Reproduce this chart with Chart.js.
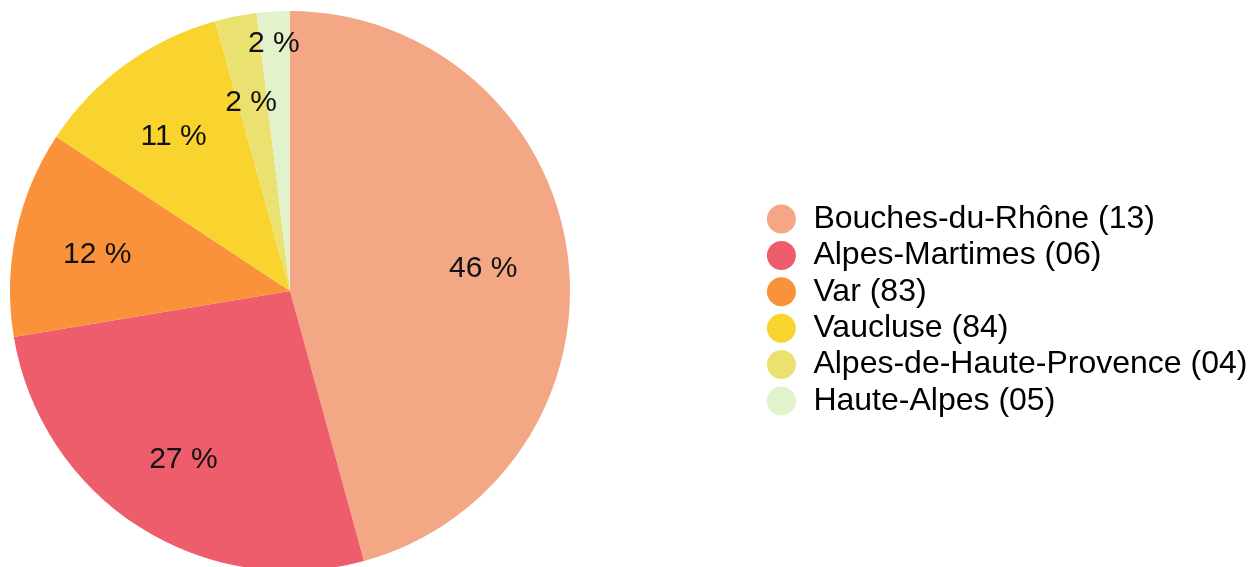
<!DOCTYPE html>
<html>
<head>
<meta charset="utf-8">
<script src="https://cdn.jsdelivr.net/npm/chart.js@4"></script>
<style>
  html, body { margin: 0; padding: 0; overflow: hidden; background: #fff; }
  #wrap { position: relative; width: 1252px; height: 575px; }
</style>
</head>
<body>
<div id="wrap"><canvas id="pie"></canvas></div>
<script>
var departements = ['Bouches-du-Rhône (13)', 'Alpes-Martimes (06)', 'Var (83)', 'Vaucluse (84)', 'Alpes-de-Haute-Provence (04)', 'Haute-Alpes (05)'];
var parts = [45.7, 26.6, 11.9, 11.4, 2.4, 1.9];
var couleurs = ['#f3a784', '#ee5d6c', '#fa923b', '#f9d42f', '#ebe171', '#e2f2cc'];

var police = '"Liberation Sans", Arial, Helvetica, sans-serif';

// pourcentages dans les parts
var etiquettes = {
    id: 'etiquettes',
    afterDatasetsDraw: function(chart) {
        var ctx = chart.ctx;
        var arcs = chart.getDatasetMeta(0).data;
        var total = parts.reduce(function(a, b) { return a + b; }, 0);
        var prev = null;
        ctx.save();
        ctx.font = '30px ' + police;
        ctx.fillStyle = '#111';
        ctx.textAlign = 'center';
        ctx.textBaseline = 'middle';
        arcs.forEach(function(arc, i) {
            var p = arc.getProps(['x', 'y', 'startAngle', 'endAngle', 'outerRadius'], true);
            var mid = (p.startAngle + p.endAngle) / 2;
            var r = p.outerRadius * 0.7;
            var x = p.x + Math.cos(mid) * r;
            var y = p.y + Math.sin(mid) * r;
            if (prev && Math.hypot(x - prev.x, y - prev.y) < 40) {
                r = p.outerRadius * 0.9;
                x = p.x + Math.cos(mid) * r;
                y = p.y + Math.sin(mid) * r;
            }
            prev = {x: x, y: y};
            ctx.fillText(Math.round(parts[i] / total * 100) + ' %', x - 1, y + 4);
        });
        ctx.restore();
    }
};

// legende a droite, decalee
var placeLegende = {
    id: 'placeLegende',
    beforeInit: function(chart) {
        var fit = chart.legend.fit;
        chart.legend.fit = function() {
            fit.call(this);
            this.width = 682;
        };
    },
    afterLayout: function(chart) {
        var lg = chart.legend;
        lg.left = 761;
        lg.top += 19;
        lg.bottom += 19;
    }
};

new Chart(document.getElementById('pie'), {
    type: 'pie',
    data: {
        labels: departements,
        datasets: [{
            data: parts,
            backgroundColor: couleurs,
            borderWidth: 0
        }]
    },
    options: {
        responsive: true,
        maintainAspectRatio: false,
        animation: false,
        layout: { padding: { left: 10, top: 11, bottom: 4, right: 0 } },
        plugins: {
            tooltip: { enabled: false },
            legend: {
                position: 'right',
                labels: {
                    usePointStyle: true,
                    pointStyle: 'circle',
                    boxWidth: 32,
                    boxHeight: 20.5,
                    padding: 4.4,
                    color: '#000',
                    font: { size: 32, family: police }
                }
            }
        }
    },
    plugins: [etiquettes, placeLegende]
});
</script>
</body>
</html>
